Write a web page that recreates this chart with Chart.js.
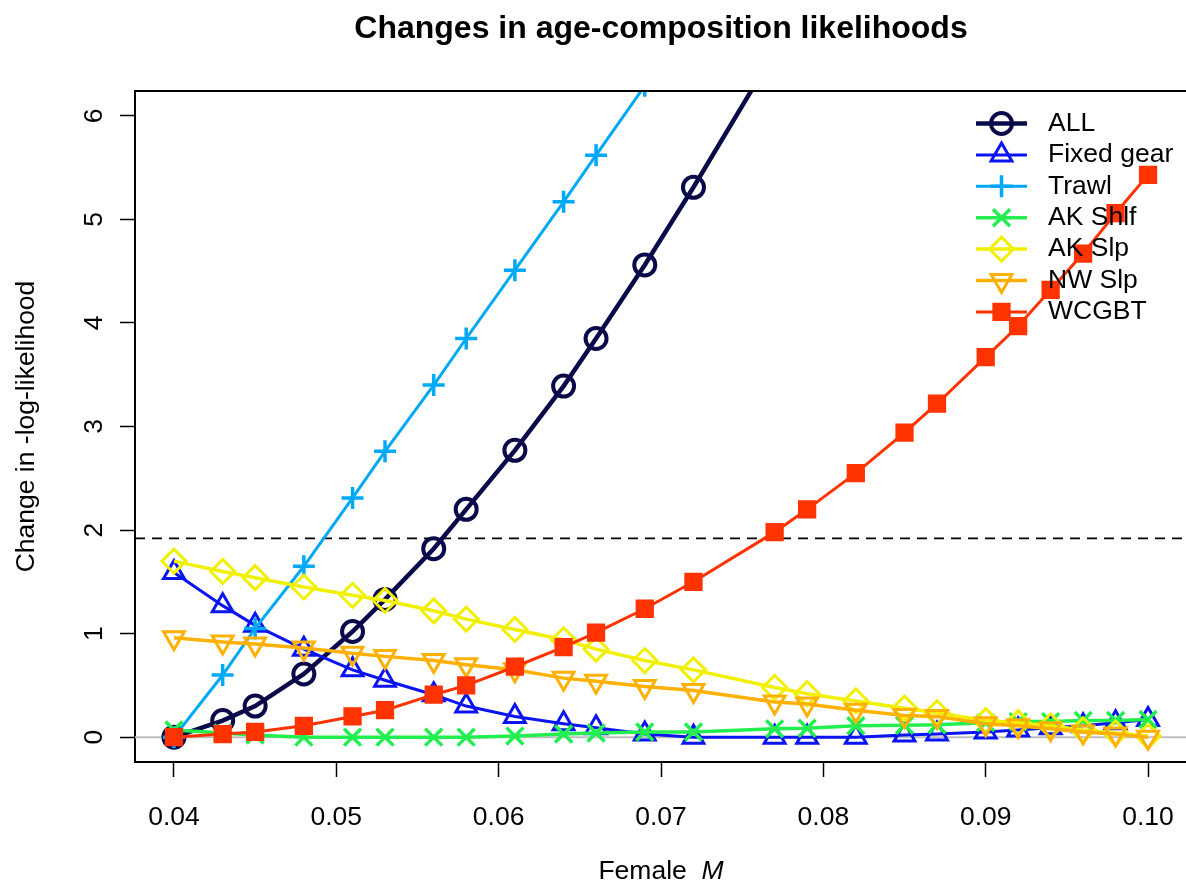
<!DOCTYPE html>
<html>
<head>
<meta charset="utf-8">
<script src="https://cdn.jsdelivr.net/npm/chart.js@4.4.1/dist/chart.umd.min.js"></script>
<style>
html, body { margin: 0; padding: 0; background: #fff; overflow: hidden; }
#wrap { width: 1186px; height: 886px; overflow: hidden; }
</style>
</head>
<body>
<div id="wrap"><canvas id="chart" width="1190" height="886"></canvas></div>
<script>
// valeurs de M (axe x)
const mValues = [0.040, 0.043, 0.045, 0.048, 0.051, 0.053, 0.056, 0.058, 0.061, 0.064, 0.066, 0.069,
                 0.072, 0.077, 0.079, 0.082, 0.085, 0.087, 0.090, 0.092, 0.094, 0.096, 0.098, 0.100];

const seriesNames = ['ALL', 'Fixed gear', 'Trawl', 'AK Shlf', 'AK Slp', 'NW Slp', 'WCGBT'];

const allVals   = [0, 0.16, 0.30, 0.61, 1.02, 1.33, 1.82, 2.20, 2.77, 3.39, 3.85, 4.56, 5.31, 6.62];
const fixedVals = [1.59, 1.27, 1.08, 0.85, 0.65, 0.55, 0.41, 0.30, 0.20, 0.13, 0.09, 0.03,
                   0.00, 0.00, 0.00, 0.00, 0.02, 0.03, 0.05, 0.07, 0.09, 0.11, 0.14, 0.17];
const trawlVals = [0, 0.60, 1.05, 1.65, 2.31, 2.76, 3.40, 3.85, 4.51, 5.17, 5.62, 6.29];
const shlfVals  = [0.07, 0.04, 0.02, 0.00, 0.00, 0.00, 0.00, 0.00, 0.01, 0.03, 0.04, 0.05,
                   0.05, 0.08, 0.085, 0.11, 0.115, 0.12, 0.14, 0.15, 0.15, 0.16, 0.16, 0.17];
const slpVals   = [1.70, 1.60, 1.54, 1.45, 1.37, 1.32, 1.22, 1.14, 1.04, 0.94, 0.85, 0.74,
                   0.65, 0.48, 0.42, 0.35, 0.28, 0.235, 0.16, 0.14, 0.11, 0.07, 0.04, 0.01];
const nwVals    = [0.96, 0.92, 0.90, 0.86, 0.81, 0.78, 0.74, 0.70, 0.65, 0.57, 0.54, 0.49,
                   0.45, 0.34, 0.32, 0.26, 0.21, 0.20, 0.13, 0.11, 0.08, 0.05, 0.03, 0.00];
const wcVals    = [0, 0.03, 0.05, 0.11, 0.20, 0.26, 0.41, 0.50, 0.68, 0.87, 1.01, 1.24,
                   1.50, 1.98, 2.20, 2.55, 2.94, 3.22, 3.67, 3.97, 4.32, 4.67, 5.06, 5.43];

const xTicks = [0.04, 0.05, 0.06, 0.07, 0.08, 0.09, 0.10];
const yTicks = [0, 1, 2, 3, 4, 5, 6];
const refLines = [0, 1.92];

const seriesVals = [allVals, fixedVals, trawlVals, shlfVals, slpVals, nwVals, wcVals];

// styles (couleur, ligne, marqueur)
const styles = [
    { color: '#0a0a4a', lw: 4.5, shape: 'circle',   r: 10.5, bw: 4,   rot: 0,   fill: false },
    { color: '#0a14f0', lw: 3,   shape: 'triangle', r: 12,   bw: 3,   rot: 0,   fill: false },
    { color: '#00a8f8', lw: 3,   shape: 'cross',    r: 11,   bw: 3.5, rot: 0,   fill: false },
    { color: '#22ee50', lw: 3.5, shape: 'crossRot', r: 12,   bw: 3.5, rot: 0,   fill: false },
    { color: '#f0f000', lw: 3.5, shape: 'rectRot',  r: 12,   bw: 3,   rot: 0,   fill: false },
    { color: '#ffb000', lw: 3.5, shape: 'triangle', r: 12,   bw: 3,   rot: 180, fill: false },
    { color: '#ff3300', lw: 3,   shape: 'rect',     r: 11.5, bw: 2,   rot: 0,   fill: true }
];

const FONT = '"Liberation Sans", Arial, sans-serif';
const BASE = 26.5;
const TITLE = 'Changes in age-composition likelihoods';

function toPoints(vals) {
    return vals.map((v, i) => ({ x: mValues[i], y: v }));
}

const datasets = seriesNames.map((name, i) => {
    const s = styles[i];
    return {
        label: name,
        data: toPoints(seriesVals[i]),
        borderColor: s.color,
        borderWidth: s.lw,
        pointStyle: s.shape,
        pointRadius: s.r,
        pointBorderWidth: s.bw,
        pointRotation: s.rot,
        pointBorderColor: s.color,
        pointBackgroundColor: s.fill ? s.color : 'transparent',
        tension: 0,
        order: seriesNames.length - i
    };
});

// lignes horizontales (0 et 1.92)
const refLinePlugin = {
    id: 'refLines',
    beforeDatasetsDraw(chart) {
        const { ctx, chartArea, scales } = chart;
        ctx.save();
        ctx.beginPath();
        ctx.rect(chartArea.left, chartArea.top, chartArea.right - chartArea.left, chartArea.bottom - chartArea.top);
        ctx.clip();
        refLines.forEach((v, k) => {
            const py = scales.y.getPixelForValue(v);
            ctx.beginPath();
            if (k === 0) {
                ctx.strokeStyle = '#bebebe';
                ctx.lineWidth = 2;
                ctx.setLineDash([]);
            } else {
                ctx.strokeStyle = '#000';
                ctx.lineWidth = 1.6;
                ctx.setLineDash([10, 7]);
            }
            ctx.moveTo(chartArea.left, py);
            ctx.lineTo(chartArea.right, py);
            ctx.stroke();
        });
        ctx.restore();
    }
};

// titre, cadre, étiquettes y tournées, titre x, légende
const decorPlugin = {
    id: 'decor',
    afterDraw(chart) {
        const { ctx, chartArea, scales } = chart;
        const cx = (chartArea.left + chartArea.right) / 2;
        ctx.save();

        // titre principal
        ctx.fillStyle = '#000';
        ctx.font = 'bold 32px ' + FONT;
        ctx.textAlign = 'center';
        ctx.textBaseline = 'middle';
        ctx.fillText(TITLE, cx, 29);

        // bord du haut
        ctx.strokeStyle = '#000';
        ctx.lineWidth = 2;
        ctx.beginPath();
        ctx.moveTo(chartArea.left - 1, chartArea.top);
        ctx.lineTo(chartArea.right + 1, chartArea.top);
        ctx.stroke();

        // étiquettes de l'axe y (verticales, comme R)
        ctx.font = BASE + 'px ' + FONT;
        yTicks.forEach(v => {
            const py = scales.y.getPixelForValue(v);
            ctx.save();
            ctx.translate(95, py);
            ctx.rotate(-Math.PI / 2);
            ctx.fillText(String(v), 0, 0);
            ctx.restore();
        });

        // titre de l'axe x : "Female M" (M en italique)
        ctx.font = BASE + 'px ' + FONT;
        const a = 'Female  ';
        const wa = ctx.measureText(a).width;
        ctx.font = 'italic ' + BASE + 'px ' + FONT;
        const wb = ctx.measureText('M').width;
        const x0 = cx - (wa + wb) / 2;
        ctx.textAlign = 'left';
        ctx.font = BASE + 'px ' + FONT;
        ctx.fillText(a, x0, 872);
        ctx.font = 'italic ' + BASE + 'px ' + FONT;
        ctx.fillText('M', x0 + wa, 872);

        // légende
        const drawPoint = Chart.helpers && Chart.helpers.drawPoint;
        seriesNames.forEach((name, i) => {
            const s = styles[i];
            const ly = 123.5 + i * 31.4;
            ctx.strokeStyle = s.color;
            ctx.lineWidth = s.lw;
            ctx.setLineDash([]);
            ctx.beginPath();
            ctx.moveTo(976, ly);
            ctx.lineTo(1027, ly);
            ctx.stroke();
            if (drawPoint) {
                ctx.fillStyle = s.fill ? s.color : 'rgba(0,0,0,0)';
                ctx.lineWidth = s.bw;
                drawPoint(ctx, { pointStyle: s.shape, rotation: s.rot, radius: s.r, borderWidth: s.bw }, 1001.5, ly);
            }
            ctx.fillStyle = '#000';
            ctx.font = BASE + 'px ' + FONT;
            ctx.textAlign = 'left';
            ctx.textBaseline = 'middle';
            ctx.fillText(name, 1048, ly);
        });

        ctx.restore();
    }
};

Chart.defaults.font.family = FONT;
Chart.defaults.color = '#000';

const ctx = document.getElementById('chart').getContext('2d');
const myChart = new Chart(ctx, {
    type: 'line',
    data: { datasets: datasets },
    options: {
        responsive: false,
        animation: false,
        events: [],
        layout: { autoPadding: false, padding: { left: 0, right: 3, top: 91, bottom: 0 } },
        scales: {
            x: {
                type: 'linear',
                min: 0.0376,
                max: 0.1024,
                afterBuildTicks: s => { s.ticks = xTicks.map(v => ({ value: v })); },
                afterFit: s => { s.height = 124; s.paddingLeft = 0; s.paddingRight = 0; },
                ticks: {
                    callback: v => Number(v).toFixed(2),
                    font: { size: BASE },
                    color: '#000',
                    padding: 25,
                    maxRotation: 0,
                    autoSkip: false
                },
                grid: { drawOnChartArea: false, tickLength: 15, tickColor: '#000', tickWidth: 1.5 },
                border: { display: true, color: '#000', width: 2 }
            },
            y: {
                type: 'linear',
                min: -0.24,
                max: 6.24,
                afterBuildTicks: s => { s.ticks = yTicks.map(v => ({ value: v })); },
                afterFit: s => { s.width = 135; },
                ticks: { display: false },
                grid: { drawOnChartArea: false, tickLength: 15, tickColor: '#000', tickWidth: 1.5 },
                border: { display: true, color: '#000', width: 2 },
                title: {
                    display: true,
                    text: 'Change in -log-likelihood',
                    font: { size: BASE },
                    color: '#000',
                    padding: { top: 11, bottom: 0 }
                }
            }
        },
        plugins: {
            legend: { display: false },
            tooltip: { enabled: false },
            title: { display: false }
        }
    },
    plugins: [refLinePlugin, decorPlugin]
});
</script>
</body>
</html>
